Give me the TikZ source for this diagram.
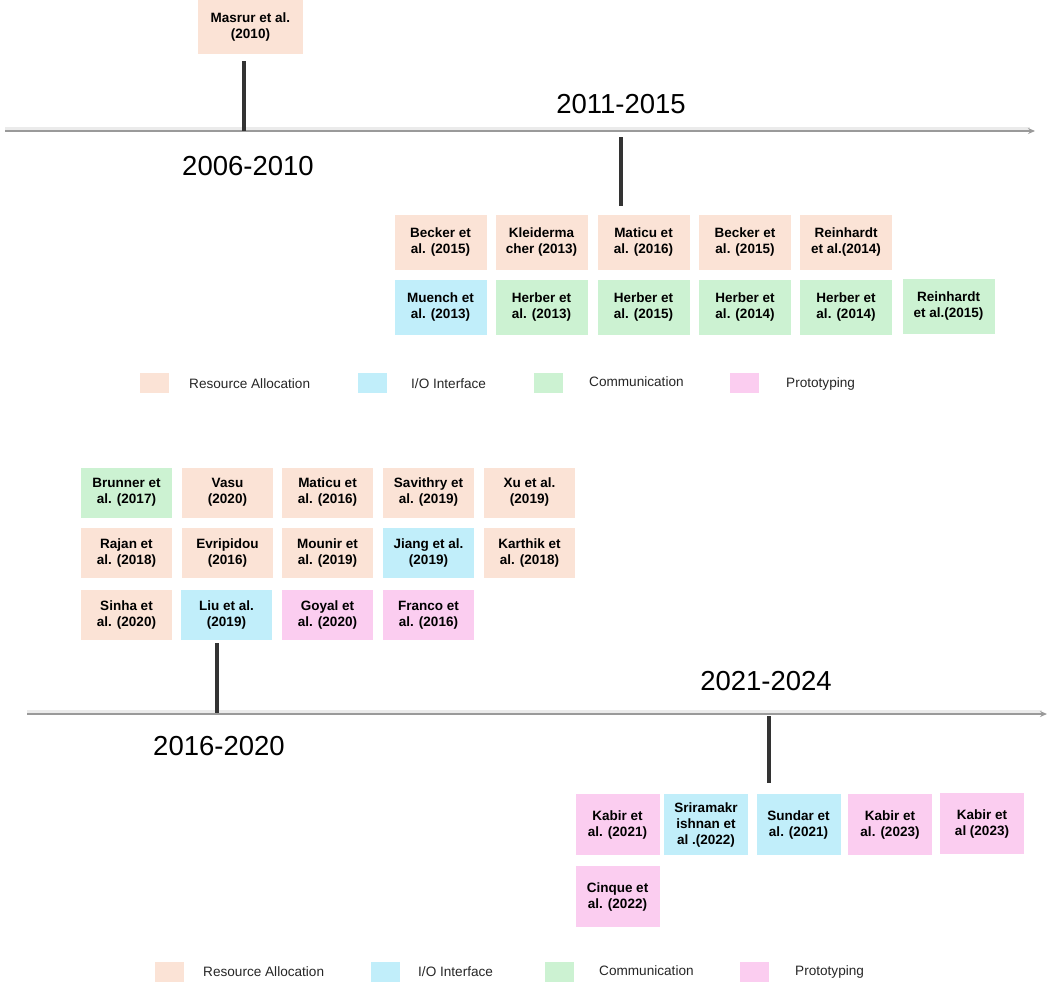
\documentclass[tikz,border=0pt]{standalone}
\usepackage{fontspec}
\setmainfont{Liberation Sans}
\usetikzlibrary{arrows.meta}
\definecolor{resc}{HTML}{FBE3D6}
\definecolor{ioc}{HTML}{C1EEFA}
\definecolor{comc}{HTML}{CCF2D2}
\definecolor{proc}{HTML}{FBCDF0}
\definecolor{axisc}{HTML}{9A9A9A}
\definecolor{tickc}{HTML}{333333}
\tikzset{
  paper/.style={rectangle, inner sep=0pt, align=center, text=black,
    font=\bfseries\fontsize{13.5}{16}\selectfont},
  pa/.style={paper, minimum width=92pt, minimum height=55pt},
  pb/.style={paper, minimum width=91pt, minimum height=50pt},
  pc/.style={paper, minimum width=84pt, minimum height=61pt},
  res/.style={fill=resc}, io/.style={fill=ioc}, com/.style={fill=comc}, pro/.style={fill=proc},
  legsq/.style={rectangle, inner sep=0pt, minimum width=29pt, minimum height=20pt},
  legtx/.style={anchor=west, inner sep=0pt, font=\fontsize{13.6}{15}\selectfont, text=black!85},
  period/.style={inner sep=0pt, font=\fontsize{27.5}{30}\selectfont},
  axisline/.style={draw=axisc, line width=1.6pt, -{Stealth[length=7pt,width=6pt]}},
  axisshadow/.style={draw=black!8, line width=4pt},
  tickline/.style={draw=tickc, line width=4.5pt},
}
\begin{document}
\begin{tikzpicture}[x=1pt,y=-1pt]
\useasboundingbox (0,0) rectangle (1052,983);

% ---------- top timeline ----------
\coordinate (a1s) at (5,131);
\coordinate (a1e) at (1035,131);
\draw[axisshadow] (5,129) -- (1030,129);
\draw[axisline] (a1s) -- (a1e);

\node[pa, res, minimum width=105pt, minimum height=54pt] (masrur) at (250.5,27) {Masrur et al.\\(2010)};
\coordinate (t1top) at (244,61);
\coordinate (t1bot) at (244,131);
\draw[tickline] (t1top) -- (t1bot);
\node[period] (p1) at (248,166) {2006-2010};

\node[period] (p2) at (621,104) {2011-2015};
\coordinate (t2top) at (621,137);
\coordinate (t2bot) at (621,206);
\draw[tickline] (t2top) -- (t2bot);

\node[pa,res] (b11) at (440.5,242) {Becker et\\al. (2015)};
\node[pa,res] (b12) at (541.5,242) {Kleiderma\\cher (2013)};
\node[pa,res] (b13) at (643.5,242) {Maticu et\\al. (2016)};
\node[pa,res] (b14) at (745,242) {Becker et\\al. (2015)};
\node[pa,res] (b15) at (846,242) {Reinhardt\\et al.(2014)};
\node[pa,io]  (b21) at (440.5,307.5) {Muench et\\al. (2013)};
\node[pa,com] (b22) at (541.5,307.5) {Herber et\\al. (2013)};
\node[pa,com] (b23) at (643.5,307.5) {Herber et\\al. (2015)};
\node[pa,com] (b24) at (745,307.5) {Herber et\\al. (2014)};
\node[pa,com] (b25) at (846,307.5) {Herber et\\al. (2014)};
\node[pa,com] (b26) at (948.5,306) {Reinhardt\\et al.(2015)};

% legend 1
\node[legsq,fill=resc] (l1a) at (154.5,382.5) {};
\node[legtx] (l1at) at (189,383.5) {Resource Allocation};
\node[legsq,fill=ioc] (l1b) at (372,383) {};
\node[legtx] (l1bt) at (411,383.5) {I/O Interface};
\node[legsq,fill=comc] (l1c) at (548.5,382.5) {};
\node[legtx] (l1ct) at (589,382) {Communication};
\node[legsq,fill=proc] (l1d) at (744.5,383) {};
\node[legtx] (l1dt) at (786,383.5) {Prototyping};

% ---------- bottom timeline ----------
\node[pb,com] (c11) at (126.5,492.5) {Brunner et\\al. (2017)};
\node[pb,res] (c12) at (227.5,492.5) {Vasu\\(2020)};
\node[pb,res] (c13) at (327.5,492.5) {Maticu et\\al. (2016)};
\node[pb,res] (c14) at (428.5,492.5) {Savithry et\\al. (2019)};
\node[pb,res] (c15) at (529.5,492.5) {Xu et al.\\(2019)};
\node[pb,res] (c21) at (126.5,553) {Rajan et\\al. (2018)};
\node[pb,res] (c22) at (227.5,553) {Evripidou\\(2016)};
\node[pb,res] (c23) at (327.5,553) {Mounir et\\al. (2019)};
\node[pb,io]  (c24) at (428.5,553) {Jiang et al.\\(2019)};
\node[pb,res] (c25) at (529.5,553) {Karthik et\\al. (2018)};
\node[pb,res] (c31) at (126.5,615) {Sinha et\\al. (2020)};
\node[pb,io]  (c32) at (226.5,615) {Liu et al.\\(2019)};
\node[pb,pro] (c33) at (327.5,615) {Goyal et\\al. (2020)};
\node[pb,pro] (c34) at (428.5,615) {Franco et\\al. (2016)};

\coordinate (a2s) at (27,714);
\coordinate (a2e) at (1047,714);
\draw[axisshadow] (27,712) -- (1042,712);
\draw[axisline] (a2s) -- (a2e);

\coordinate (t3top) at (217,643);
\coordinate (t3bot) at (217,713);
\draw[tickline] (t3top) -- (t3bot);
\node[period] (p3) at (219,746) {2016-2020};

\node[period] (p4) at (766,681) {2021-2024};
\coordinate (t4top) at (769,716);
\coordinate (t4bot) at (769,783);
\draw[tickline] (t4top) -- (t4bot);

\node[pc,pro] (d11) at (617.5,824.5) {Kabir et\\al. (2021)};
\node[pc,io]  (d12) at (706,824.5) {Sriramakr\\ishnan et\\al .(2022)};
\node[pc,io]  (d13) at (798.5,824.5) {Sundar et\\al. (2021)};
\node[pc,pro] (d14) at (890,824.5) {Kabir et\\al. (2023)};
\node[pc,pro] (d15) at (982,823.5) {Kabir et\\al (2023)};
\node[pc,pro] (d21) at (617.5,896.5) {Cinque et\\al. (2022)};

% legend 2
\node[legsq,fill=resc] (l2a) at (169,972) {};
\node[legtx] (l2at) at (203,972) {Resource Allocation};
\node[legsq,fill=ioc] (l2b) at (385,972) {};
\node[legtx] (l2bt) at (418,972) {I/O Interface};
\node[legsq,fill=comc] (l2c) at (559.5,972) {};
\node[legtx] (l2ct) at (599,971) {Communication};
\node[legsq,fill=proc] (l2d) at (754.5,972) {};
\node[legtx] (l2dt) at (795,972) {Prototyping};
\end{tikzpicture}
\end{document}
